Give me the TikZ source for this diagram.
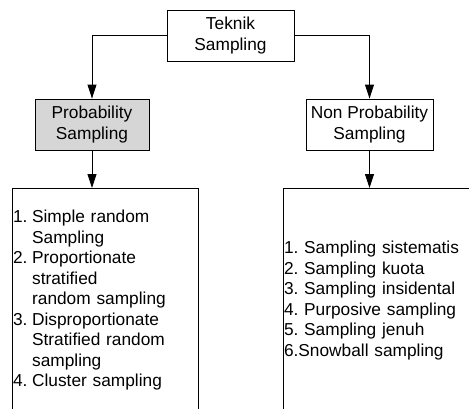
\documentclass[tikz,border=0pt]{standalone}
\usepackage{fontspec}
\setmainfont{Liberation Sans}
\usepackage{tikz}
\usetikzlibrary{arrows.meta,positioning}
\definecolor{boxgray}{RGB}{214,214,214}
\frenchspacing
\tikzset{
  block/.style={draw,align=center,minimum width=127pt,minimum height=51pt,
    inner sep=1pt,font=\fontsize{17.3}{20.5}\selectfont},
  listbox/.style={draw,fill=white,align=left,minimum height=224pt,anchor=north,
    inner xsep=1pt,font=\fontsize{17.3}{20.5}\selectfont},
  arrow/.style={-{Triangle[length=14pt,width=9pt]},line width=0.9pt}
}

\begin{document}
\begin{tikzpicture}[x=1pt,y=-1pt,line width=0.9pt]
  \useasboundingbox (0,0) rectangle (469,408);
  \clip (0,0) rectangle (469,408);

  \node[block,fill=white] (teknik) at (230.5,35.5) {Teknik\\Sampling};
  \node[block,fill=boxgray,minimum width=114pt] (prob) at (92,124.5) {Probability\\Sampling};
  \node[block,fill=white] (nonprob) at (369.5,124.5) {Non Probability\\Sampling};

  \node[listbox,text width=184pt] (problist) at (105,188) {%
    \begin{tabular}{@{}l@{\hspace{4.7pt}}l@{}}
      1. & Simple random\\
         & Sampling\\
      2. & Proportionate\\
         & stratified\\
         & random sampling\\
      3. & Disproportionate\\
         & Stratified random\\
         & sampling\\
      4. & Cluster sampling
    \end{tabular}};
  \node[listbox,text width=205pt] (nonproblist) at (386.5,188) {%
    1. Sampling sistematis\\
    2. Sampling kuota\\
    3. Sampling insidental\\
    4. Purposive sampling\\
    5. Sampling jenuh\\
    6.Snowball sampling};

  \draw[arrow] (teknik.west) -| (prob.north);
  \draw[arrow] (teknik.east) -| (nonprob.north);
  \draw[arrow] (prob.south) -- (prob.south |- problist.north);
  \draw[arrow] (nonprob.south) -- (nonprob.south |- nonproblist.north);
\end{tikzpicture}
\end{document}
